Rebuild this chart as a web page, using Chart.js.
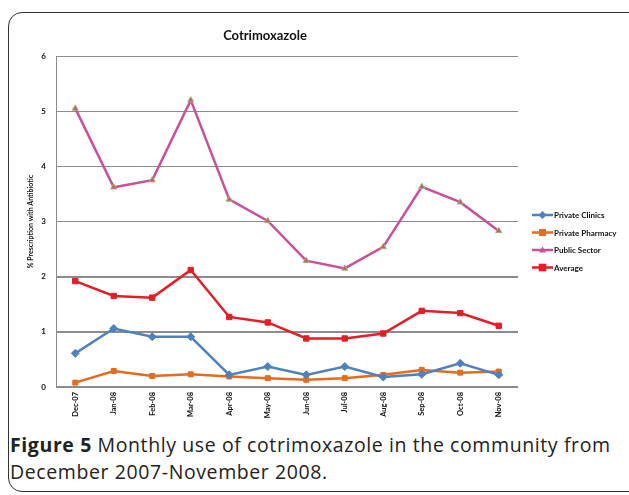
<!DOCTYPE html>
<html>
<head>
<meta charset="utf-8">
<script src="https://cdn.jsdelivr.net/npm/chart.js@4"></script>
<style>
  body { margin: 0; background: #fff; }
  #frame { position: absolute; left: 8px; top: 12px; width: 640px; height: 478px; border: 1.5px solid #333; border-radius: 14px; }
  #chartWrap { position: absolute; left: 0; top: 0; width: 629px; height: 430px; }
  .caption { position: absolute; left: 10px; top: 431px; font-family: 'Open Sans', sans-serif; font-size: 19.5px; letter-spacing: 0.6px; line-height: 27px; color: #222; white-space: nowrap; }
  .caption b { font-weight: 700; }
</style>
</head>
<body>
<div id="frame"></div>
<div id="chartWrap"><canvas id="cotriChart" width="629" height="430"></canvas></div>
<div class="caption"><b>Figure 5</b> Monthly use of cotrimoxazole in the community from<br>December 2007-November 2008.</div>
<script>
const months = ['Dec-07', 'Jan-08', 'Feb-08', 'Mar-08', 'Apr-08', 'May-08', 'Jun-08', 'Jul-08', 'Aug-08', 'Sep-08', 'Oct-08', 'Nov-08'];
const privateClinics = [0.61, 1.06, 0.91, 0.91, 0.22, 0.37, 0.22, 0.37, 0.18, 0.23, 0.43, 0.22];
const privatePharmacy = [0.08, 0.29, 0.20, 0.23, 0.19, 0.16, 0.13, 0.16, 0.22, 0.31, 0.26, 0.28];
const publicSector = [5.05, 3.62, 3.75, 5.20, 3.40, 3.01, 2.29, 2.15, 2.54, 3.63, 3.35, 2.83];
const average = [1.92, 1.65, 1.62, 2.12, 1.27, 1.17, 0.88, 0.88, 0.97, 1.38, 1.34, 1.11];
const yTicks = [0, 1, 2, 3, 4, 5, 6];

const FONT = "Lato, 'Open Sans', sans-serif";

function series(label, data, color, style, radius, fillCol) {
  return {
    label, data,
    borderColor: color,
    backgroundColor: color,
    borderWidth: 2.5,
    tension: 0,
    pointStyle: style,
    pointRadius: radius,
    pointBackgroundColor: fillCol || color,
    pointBorderColor: fillCol ? '#9bbb59' : color,
    pointBorderWidth: 1
  };
}

// draws title + legend at fixed spots, like the Excel original
const overlay = {
  id: 'overlay',
  afterDraw(chart) {
    const ctx = chart.ctx;
    ctx.save();
    ctx.fillStyle = '#111';
    ctx.font = `bold 13px ${FONT}`;
    ctx.textAlign = 'center';
    ctx.textBaseline = 'middle';
    ctx.fillText('Cotrimoxazole', 265, 36);

    ctx.font = `bold 8px ${FONT}`;
    ctx.textAlign = 'left';
    chart.data.datasets.forEach((ds, i) => {
      const y = 215 + i * 17.5;
      ctx.strokeStyle = ds.borderColor;
      ctx.lineWidth = 2.5;
      ctx.beginPath();
      ctx.moveTo(532, y);
      ctx.lineTo(553, y);
      ctx.stroke();
      ctx.fillStyle = ds.pointBackgroundColor;
      const r = ds.pointRadius, cx = 542.5;
      ctx.beginPath();
      if (ds.pointStyle === 'rectRot') {
        ctx.moveTo(cx, y - r); ctx.lineTo(cx + r, y); ctx.lineTo(cx, y + r); ctx.lineTo(cx - r, y);
      } else if (ds.pointStyle === 'triangle') {
        ctx.moveTo(cx, y - r); ctx.lineTo(cx + r, y + r * 0.7); ctx.lineTo(cx - r, y + r * 0.7);
      } else {
        ctx.rect(cx - r, y - r, r * 2, r * 2);
      }
      ctx.closePath();
      ctx.fill();
      ctx.fillStyle = '#111';
      ctx.fillText(ds.label, 554, y + 0.5);
    });
    ctx.restore();
  }
};

new Chart(document.getElementById('cotriChart'), {
  type: 'line',
  data: {
    labels: months,
    datasets: [
      series('Private Clinics', privateClinics, '#4f81bd', 'rectRot', 4),
      series('Private Pharmacy', privatePharmacy, '#e36c1e', 'rect', 3.5),
      series('Public Sector', publicSector, '#c9509b', 'triangle', 3.5, '#c9509b'),
      series('Average', average, '#e41e26', 'rect', 3.8)
    ]
  },
  options: {
    responsive: false,
    animation: false,
    layout: { padding: { left: 27, top: 56, right: 111, bottom: 0 } },
    plugins: { legend: { display: false }, title: { display: false }, tooltip: { enabled: false } },
    scales: {
      x: {
        offset: true,
        grid: { display: false, drawTicks: false },
        border: { display: false },
        afterFit(scale) { scale.height = 43; },
        ticks: { minRotation: 90, maxRotation: 90, padding: 5, color: '#111', font: { family: FONT, size: 7.5, weight: 'bold' } }
      },
      y: {
        min: 0, max: 6,
        afterFit(scale) { scale.width = 29; },
        afterBuildTicks(scale) { scale.ticks = yTicks.map(v => ({ value: v })); },
        grid: { color: '#8c8c8c', drawTicks: false, lineWidth: c => (c.tick && c.tick.value <= 2 ? 2 : 1) },
        border: { display: true, color: '#8c8c8c', width: 1 },
        ticks: { padding: 10, color: '#111', font: { family: FONT, size: 8, weight: 'bold' } },
        title: { display: true, text: '% Prescription with Antibiotic', color: '#111', padding: { top: 0, bottom: 0 }, font: { family: FONT, size: 7, weight: 'bold' } }
      }
    }
  },
  plugins: [overlay]
});
</script>
</body>
</html>
